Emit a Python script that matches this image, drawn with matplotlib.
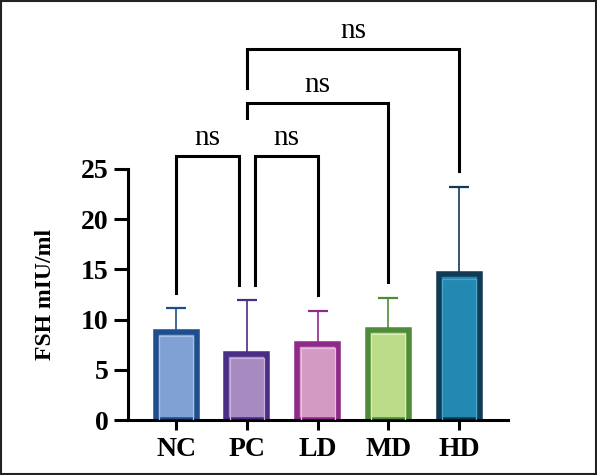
import matplotlib
matplotlib.use("Agg")
import matplotlib.pyplot as plt
from matplotlib.patches import Rectangle
import numpy as np

# ── data ─────────────────────────────────────────────
groups = ["NC", "PC", "LD", "MD", "HD"]
means = [8.8, 6.6, 7.6, 9.0, 14.5]
err_tops = [11.15, 11.95, 10.9, 12.2, 23.2]
face_colors = ["#7fa1d4", "#a78bc0", "#d39ac4", "#bddc8a", "#2389b0"]
edge_colors = ["#1f4e8c", "#4a2d85", "#8e2a8a", "#4e8c3a", "#123a55"]
inner_colors = ["#a9c2e8", "#c6b2d8", "#ecbede", "#d9ecb6", "#4aa6c8"]

# comparisons: (left group, right group, bar top, left leg end, right leg end)
comparisons = [
    (0, 1, 26.3, 12.65, 13.45),
    (1, 2, 26.3, 13.45, 12.45),
    (1, 3, 31.6, 30.1, 13.75),
    (1, 4, 36.95, 33.1, 24.8),
]
comp_labels = ["ns", "ns", "ns", "ns"]
# ─────────────────────────────────────────────────────

serif = ["Liberation Serif", "DejaVu Serif"]
plt.rcParams["font.family"] = serif

fig = plt.figure(figsize=(5.97, 4.75), dpi=100)
ax = fig.add_axes([128 / 597, 55 / 475, 380 / 597, 251 / 475])

x = np.arange(len(groups))
bar_w = 0.58
sd_upper = np.array(err_tops) - np.array(means)

ax.bar(x, means, width=bar_w, color=face_colors, edgecolor=edge_colors,
       linewidth=4.0, zorder=2)
# lighter inner outline of each bar
ax.bar(x, np.array(means) - 0.45, width=bar_w - 0.1, color="none",
       edgecolor=inner_colors, linewidth=0.9, zorder=3)

for xi, m, e, ec in zip(x, means, sd_upper, edge_colors):
    ax.errorbar(xi, m, yerr=[[0], [e]], fmt="none", ecolor=ec,
                elinewidth=1.2, capsize=7, capthick=1.6, zorder=1)

# significance brackets
leg_off = 0.11
for (i, j, top, yl, yr), lab in zip(comparisons, comp_labels):
    xl, xr = x[i], x[j]
    if i == 1 and j == 2:
        xl += leg_off
    if i == 0 and j == 1:
        xr -= leg_off
    ax.plot([xl, xl, xr, xr], [yl, top, top, yr], color="black",
            lw=2.2, solid_joinstyle="miter", clip_on=False, zorder=4)
    ax.text((xl + xr) / 2, top + 1.05, lab, ha="center", va="baseline",
            fontsize=21, family=serif, clip_on=False)

ax.set_xlim(-0.68, 4.69)
ax.set_ylim(0, 25)
ax.set_yticks([0, 5, 10, 15, 20, 25])
ax.set_xticks(x)
ax.set_xticklabels(groups)

for side in ("top", "right"):
    ax.spines[side].set_visible(False)
for side in ("left", "bottom"):
    ax.spines[side].set_linewidth(2.2)

ax.tick_params(axis="y", length=10, width=2.2, pad=4, labelsize=20)
ax.tick_params(axis="x", length=7, width=2.2, pad=5, labelsize=20)
for lab in ax.get_xticklabels() + ax.get_yticklabels():
    lab.set_fontweight("bold")

ax.set_ylabel("FSH mIU/ml", fontsize=17, fontweight="bold")
ax.yaxis.set_label_coords(-0.19, 0.5)

# thin frame around the whole picture
fig.patches.append(Rectangle((0.0015, 0.002), 0.997, 0.996,
                             transform=fig.transFigure, fill=False,
                             edgecolor="#222222", linewidth=1.5))

fig.savefig("out.png", dpi=100)
